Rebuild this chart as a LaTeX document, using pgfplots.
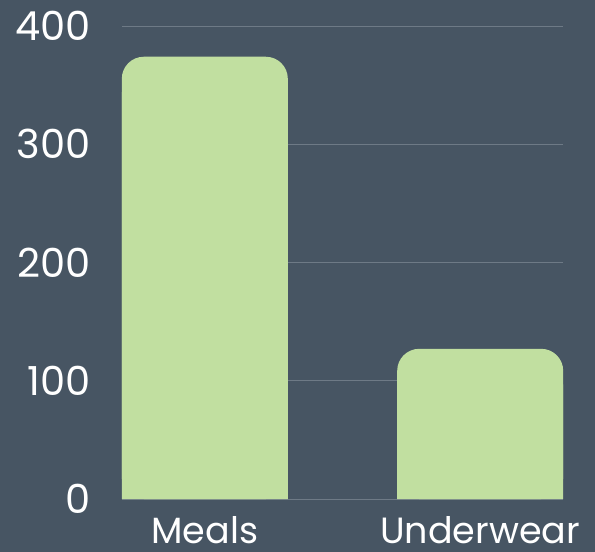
\documentclass[border=0pt]{standalone}
\usepackage{fontspec}
\setmainfont{Poppins}
\usepackage{pgfplots}
\usepackage{pgfplotstable}
\pgfplotsset{compat=1.18}
\definecolor{bg}{HTML}{475563}
\definecolor{bar}{HTML}{C1DFA0}
\definecolor{gridc}{HTML}{6E7A86}
\pgfplotstableread{
x y
0 374
1 127
}\data
\begin{document}
\begin{tikzpicture}
\fill[bg] (-122pt,-53pt) rectangle (473pt,499pt);
\useasboundingbox (-122pt,-53pt) rectangle (473pt,499pt);
\begin{axis}[
  at={(0pt,0pt)}, anchor=south west,
  scale only axis, width=441pt, height=473pt,
  xmin=-0.3007, xmax=1.3007, ymin=0, ymax=400,
  ybar, bar width=166pt,
  xtick={0,1}, xticklabels={Meals,Underwear},
  ytick={0,100,200,300,400},
  ymajorgrids, grid style={draw=gridc, line width=0.8pt},
  axis line style={draw=none},
  major tick length=0pt,
  tick label style={text=white, inner sep=0pt},
  yticklabel style={font=\fontsize{40}{42}\selectfont, xshift=-31pt},
  xticklabel style={font=\fontsize{36.5}{40}\selectfont, yshift=-17pt},
  /pgf/number format/assume math mode=true,
  axis on top=false,
]
\addplot[fill=bar, draw=none, bar shift=0pt, rounded corners=22pt] table[x=x,y=y]{\data};
\addplot[fill=bar, draw=none, bar shift=0pt] table[x=x,y expr=\thisrow{y}-30]{\data};
\end{axis}
\end{tikzpicture}
\end{document}
